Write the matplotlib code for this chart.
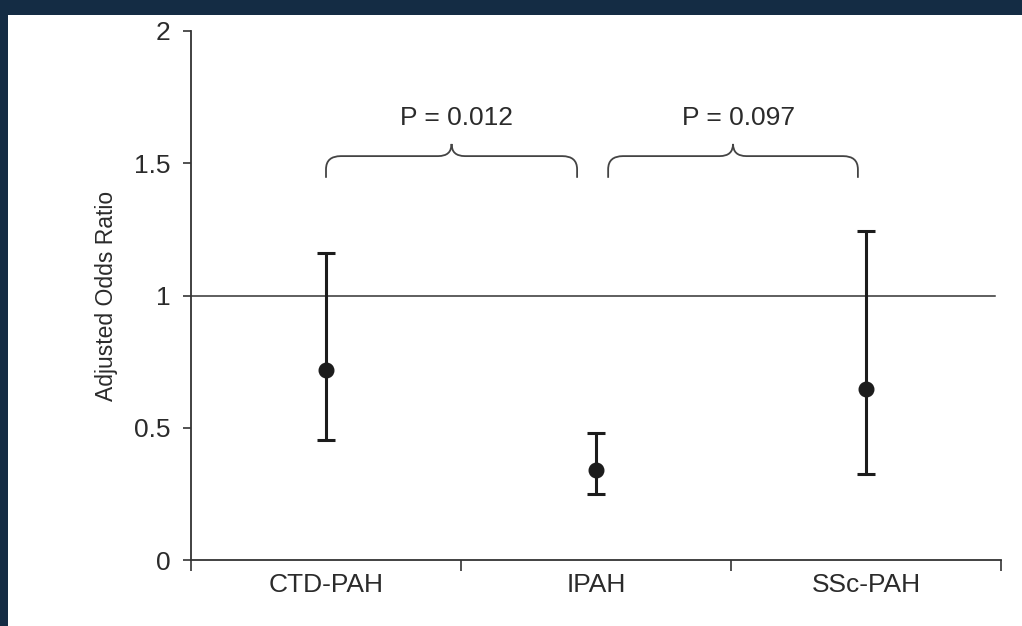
"""
Adjusted odds ratios with 95% CI per PAH group
"""
import matplotlib
matplotlib.use('Agg')
import matplotlib.pyplot as plt
from matplotlib.path import Path
from matplotlib.patches import PathPatch, Rectangle

plt.rcParams['font.family'] = ['Liberation Sans', 'DejaVu Sans']

# Data
groups = ['CTD-PAH', 'IPAH', 'SSc-PAH']
odds_ratio = [0.72, 0.34, 0.645]
ci_low = [0.455, 0.25, 0.325]
ci_high = [1.16, 0.48, 1.245]

# Comparison brackets: (start, end) on the category axis and p values
brace_spans = [(0.5, 1.43), (1.545, 2.47)]
p_labels = ['P = 0.012', 'P = 0.097']

INK = '#1c1c1c'
TEXT = '#2b2b2b'

fig = plt.figure(figsize=(10.22, 6.26), dpi=100, facecolor='#142c44')
# White slide panel inside the dark border
fig.patches.append(Rectangle((8 / 1022, 0), 1, 1 - 15 / 626, transform=fig.transFigure,
                             facecolor='white', edgecolor='none', zorder=-10))

ax = fig.add_axes([191 / 1022, 1 - 560 / 626, 810 / 1022, 529 / 626])
ax.set_facecolor('none')

xpos = [i + 0.5 for i in range(len(groups))]
yerr = [[o - l for o, l in zip(odds_ratio, ci_low)],
        [h - o for o, h in zip(odds_ratio, ci_high)]]
ax.errorbar(xpos, odds_ratio, yerr=yerr, fmt='o', color=INK, ecolor=INK,
            elinewidth=2.2, capsize=6.5, capthick=2.2, markersize=10.5, zorder=3)

# Reference line at OR = 1
ax.axhline(1, xmin=0, xmax=0.993, color='#333333', lw=1.1, zorder=2)

# Curly braces with p values above them
y_bot, y_flat, y_peak = 1.445, 1.527, 1.573
rx, ry = 0.055, 0.05
for (x0, x1), lab in zip(brace_spans, p_labels):
    xm = (x0 + x1) / 2
    verts = [(x0, y_bot), (x0, y_flat - ry), (x0, y_flat), (x0 + rx, y_flat),
             (xm - rx * 0.9, y_flat), (xm, y_flat), (xm, y_peak),
             (xm, y_flat), (xm + rx * 0.9, y_flat),
             (x1 - rx, y_flat), (x1, y_flat), (x1, y_flat - ry), (x1, y_bot)]
    codes = [Path.MOVETO, Path.LINETO, Path.CURVE3, Path.CURVE3,
             Path.LINETO, Path.CURVE3, Path.CURVE3,
             Path.CURVE3, Path.CURVE3,
             Path.LINETO, Path.CURVE3, Path.CURVE3, Path.LINETO]
    ax.add_patch(PathPatch(Path(verts, codes), facecolor='none', edgecolor='#444444', lw=1.3))
    ax.text(xm + 0.02, 1.67, lab, ha='center', va='center', fontsize=19, color=TEXT)

ax.set_xlim(0, 3)
ax.set_ylim(0, 2)
ax.set_yticks([0, 0.5, 1, 1.5, 2])
ax.set_yticklabels(['0', '0.5', '1', '1.5', '2'])
ax.set_xticks([0, 1, 2, 3])
ax.set_xticklabels([])
ax.set_xticks(xpos, minor=True)
ax.set_xticklabels(groups, minor=True)
ax.tick_params(axis='x', which='minor', length=0, pad=9, labelsize=19, labelcolor=TEXT)
ax.tick_params(axis='x', which='major', direction='out', length=8, width=1.2, color='#333333')
ax.tick_params(axis='y', direction='out', length=6, width=1.2, pad=9, labelsize=19,
               labelcolor=TEXT, color='#333333')

for side in ['top', 'right']:
    ax.spines[side].set_visible(False)
for side in ['left', 'bottom']:
    ax.spines[side].set_color('#333333')
    ax.spines[side].set_linewidth(1.3)

ax.set_ylabel('Adjusted Odds Ratio', fontsize=16.5, color=TEXT, labelpad=11)

plt.savefig('out.png', dpi=100, facecolor=fig.get_facecolor())
